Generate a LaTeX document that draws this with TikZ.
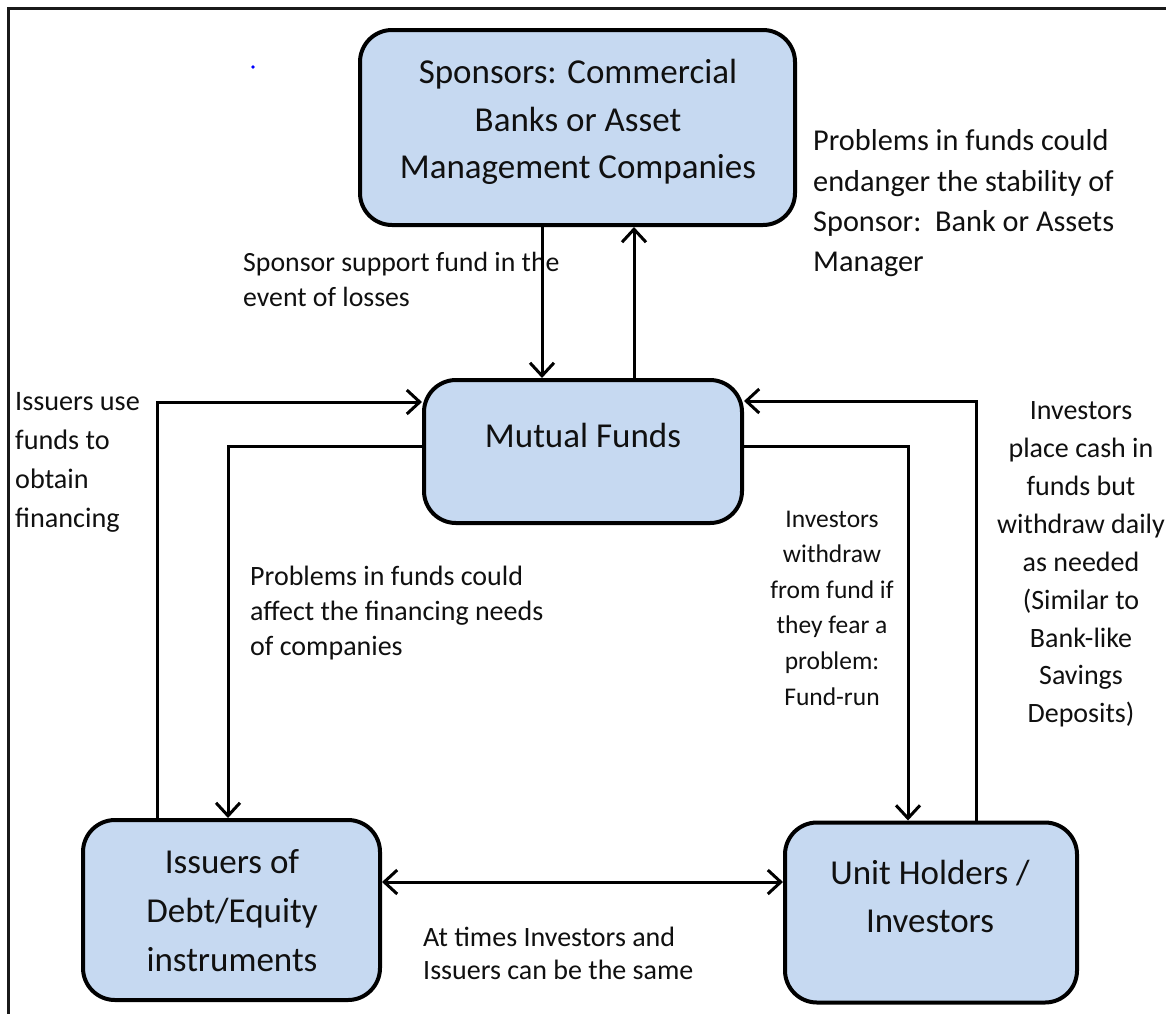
\documentclass[tikz,border=0pt]{standalone}
\usepackage{fontspec}
\setmainfont{Carlito}
\usetikzlibrary{arrows.meta}
\definecolor{boxfill}{HTML}{C6D9F1}
\definecolor{ink}{HTML}{101010}
\tikzset{
  box/.style={draw=black, line width=4pt, fill=boxfill, rounded corners=32pt, inner sep=0pt},
  boxtext/.style={align=center, text=ink, font=\fontsize{35}{47.5}\selectfont},
  note/.style={text=ink, inner sep=0pt},
  tip/.style={Straight Barb[length=13pt,width=24pt]},
  arr/.style={draw=black, line width=3pt, -{Straight Barb[length=13pt,width=24pt]}},
  dblarr/.style={draw=black, line width=3pt, {Straight Barb[length=13pt,width=24pt]}-{Straight Barb[length=13pt,width=24pt]}},
}
\begin{document}
\begin{tikzpicture}[x=1pt, y=-1pt]
\useasboundingbox (0,0) rectangle (1166,1013);
\fill[white] (0,0) rectangle (1166,1013);

% outer frame, open to the right and bottom
\draw[line width=3pt, black!90] (8,1020) -- (8,8) -- (1175,8);

% stray blue dot
\fill[blue] (253,67) circle (1.8);

% boxes
\node[box, minimum width=435pt, minimum height=195pt] (sp) at (577.5,127.5) {};
\node[box, minimum width=318pt, minimum height=143pt] (mf) at (583,451.5) {};
\node[box, minimum width=297pt, minimum height=180pt] (iss) at (231.5,910) {};
\node[box, minimum width=292pt, minimum height=180pt] (uh) at (931,912.5) {};

% box texts
\node[boxtext] (sp-t) at (578,122) {Sponsors: Commercial\\Banks or Asset\\Management Companies};
\node[boxtext] (mf-t) at (583,435) {Mutual Funds};
\node[boxtext, font=\fontsize{35}{49}\selectfont] (iss-t) at (232,911) {Issuers of\\Debt/Equity\\instruments};
\node[boxtext, font=\fontsize{35}{48}\selectfont] (uh-t) at (930,896) {Unit Holders /\\Investors};

% annotations
\node[note, align=left, anchor=west, font=\fontsize{30.3}{40.3}\selectfont] (n-risk) at (813,203.5)
  {Problems in funds could\\endanger the stability of\\Sponsor:\ \ Bank or Assets\\Manager};
\node[note, align=left, anchor=west, font=\fontsize{27.8}{35}\selectfont] (n-support) at (243,279.5)
  {Sponsor support fund in the\\event of losses};
\node[note, align=left, anchor=west, font=\fontsize{28.2}{39}\selectfont] (n-issuers) at (15,462)
  {Issuers use\\funds to\\obtain\\financing};
\node[note, align=left, anchor=west, font=\fontsize{28}{35}\selectfont] (n-affect) at (250,613)
  {Problems in funds could\\affect the financing needs\\of companies};
\node[note, align=center, font=\fontsize{25.5}{35.6}\selectfont] (n-run) at (832,608)
  {Investors\\withdraw\\from fund if\\they fear a\\problem:\\Fund-run};
\node[note, align=center, font=\fontsize{28}{37.9}\selectfont] (n-place) at (1081,564.5)
  {Investors\\place cash in\\funds but\\withdraw daily\\as needed\\(Similar to\\Bank-like\\Savings\\Deposits)};
\node[note, align=left, anchor=west, font=\fontsize{28}{33}\selectfont] (n-same) at (423,953.5)
  {At times Investors and\\Issuers can be the same};

% routing points
\coordinate (c-down) at (542,0);
\coordinate (c-up) at (634,0);
\coordinate (c-lo) at (157,402);
\coordinate (c-li) at (228,446);
\coordinate (c-ri) at (908,446);
\coordinate (c-ro) at (976,401);
\coordinate (c-mid) at (0,882);

% connectors
\draw[arr] (sp.south -| c-down) -- (mf.north -| c-down);
\draw[arr] (mf.north -| c-up) -- (sp.south -| c-up);
\draw[arr] (iss.north -| c-lo) |- (mf.west |- c-lo);
\draw[arr] (mf.west |- c-li) -| (iss.north -| c-li);
\draw[arr] (mf.east |- c-ri) -| (uh.north -| c-ri);
\draw[arr] (uh.north -| c-ro) |- (mf.east |- c-ro);
\draw[dblarr] (iss.east |- c-mid) -- (uh.west |- c-mid);
\end{tikzpicture}
\end{document}
